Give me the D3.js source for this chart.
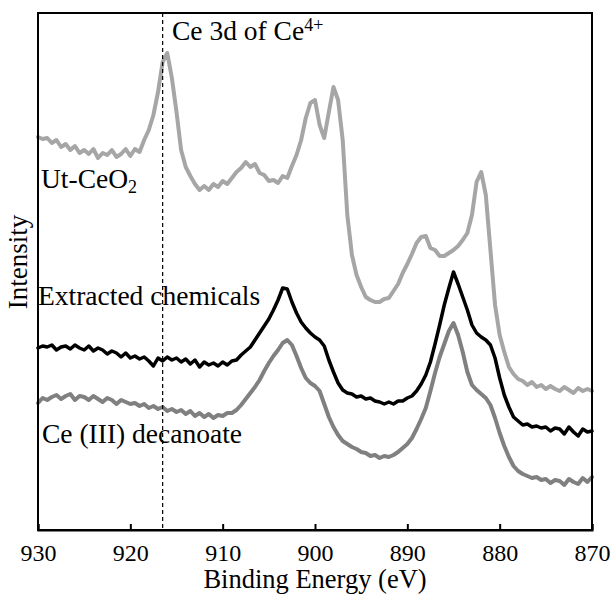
<!DOCTYPE html>
<html><head><meta charset="utf-8"><script src="https://cdn.jsdelivr.net/npm/d3@7"></script></head>
<body style="margin:0">
<div id="c"></div>
<script>
// Binding energy grid (eV), 930 -> 870 in 0.5 eV steps
const energies = d3.range(930, 869.9, -0.5);

// Intensities (arbitrary units), one value per energy
const utCeO2 = [
  393,391,392,387,390,383,386,380,384,377,
  380,376,381,372,377,375,380,373,376,381,
  374,381,378,390,400,415,438,468,477,452,
  418,380,363,354,346,340,344,340,346,343,
  349,346,352,358,362,368,363,366,357,355,
  349,350,347,354,352,364,375,390,412,427,
  430,405,392,418,443,430,390,315,275,255,
  243,233,230,228,228,231,232,239,246,257,
  266,276,287,293,294,282,280,274,274,277,
  280,284,290,297,315,348,358,335,280,225,
  195,178,163,156,151,149,145,148,143,145,
  141,144,141,139,143,140,137,142,139,141,
  139
];
const extracted = [
  182,184,183,185,180,183,184,181,185,182,
  180,184,179,182,180,176,179,177,173,177,
  172,174,171,173,169,164,172,169,173,170,
  172,168,171,166,170,163,168,165,167,164,
  168,165,169,170,175,179,183,190,197,204,
  211,220,230,242,241,228,217,208,202,197,
  193,190,184,170,158,147,140,137,136,133,
  134,131,132,129,128,126,128,126,129,129,
  132,134,139,146,155,168,186,205,225,242,
  258,246,233,220,205,197,193,190,185,172,
  152,135,123,113,109,105,106,103,104,102,
  103,99,102,101,96,103,98,94,101,98,
  99
];
const ceDecanoate = [
  127,132,130,133,135,131,134,136,130,134,
  133,130,134,131,128,132,130,126,130,128,
  126,127,124,126,122,124,121,123,119,121,
  118,120,116,119,114,117,113,116,112,115,
  114,117,117,120,125,131,137,143,150,159,
  167,174,180,187,190,185,174,162,152,147,
  144,139,126,113,103,95,89,86,83,81,
  78,77,74,75,72,74,73,75,78,82,
  86,92,101,111,122,139,157,173,186,199,
  207,195,178,158,145,140,136,132,125,112,
  97,84,73,64,59,56,54,52,53,50,
  51,47,50,49,45,51,48,46,52,48,
  53
];
const xTicks = [930, 920, 910, 900, 890, 880, 870];
const ce4Energy = 916.5;

const seriesNames = ["Ut-CeO\u2082", "Extracted chemicals", "Ce (III) decanoate"];

const FONT = "Liberation Serif";
const W = 612, H = 597;
const m = { left: 38, right: 20, top: 13, bottom: 67 };
const x = d3.scaleLinear().domain([930, 870]).range([m.left, W - m.right]);
const y = d3.scaleLinear().domain([0, 517]).range([H - m.bottom, m.top]);

const svg = d3.select("#c").append("svg")
  .attr("width", W).attr("height", H)
  .style("display", "block")
  .style("font-family", FONT);

const series = [
  { values: utCeO2, color: "#a6a6a6", width: 4 },
  { values: extracted, color: "#000000", width: 3.5 },
  { values: ceDecanoate, color: "#808080", width: 4 }
];

const line = d3.line().x(d => x(d[0])).y(d => y(d[1]));
series.forEach(s => {
  svg.append("path")
    .datum(energies.map((e, i) => [e, s.values[i]]).filter(d => d[1] !== undefined))
    .attr("fill", "none")
    .attr("stroke", s.color)
    .attr("stroke-width", s.width)
    .attr("stroke-linejoin", "round")
    .attr("stroke-linecap", "round")
    .attr("d", line);
});

// dashed reference line
svg.append("line")
  .attr("x1", x(ce4Energy)).attr("x2", x(ce4Energy))
  .attr("y1", y(517)).attr("y2", y(0))
  .attr("stroke", "#000").attr("stroke-width", 1.2)
  .attr("stroke-dasharray", "4,3");

// frame
svg.append("rect")
  .attr("x", x(930)).attr("y", y(517))
  .attr("width", x(870) - x(930)).attr("height", y(0) - y(517))
  .attr("fill", "none").attr("stroke", "#000").attr("stroke-width", 2);

// bottom axis, inward ticks
const xAxis = d3.axisBottom(x).tickValues(xTicks).tickSize(-6).tickPadding(14).tickFormat(d3.format("d"));
const gx = svg.append("g").attr("transform", `translate(0,${y(0)})`).call(xAxis);
gx.attr("font-family", null).attr("font-size", 24).style("font-family", FONT);
gx.select(".domain").attr("stroke-width", 2);
gx.selectAll(".tick line").attr("stroke-width", 2);
gx.selectAll(".tick text").attr("fill", "#000").attr("font-size", 24).style("font-family", FONT);

function txt(xp, yp, size) {
  return svg.append("text").attr("x", xp).attr("y", yp).attr("fill", "#000")
    .attr("font-size", size).style("font-family", FONT);
}

// axis titles
txt(315, 588, 26.5).attr("text-anchor", "middle").text("Binding Energy (eV)");
svg.append("text").attr("transform", "translate(27,262) rotate(-90)")
  .attr("text-anchor", "middle").attr("fill", "#000")
  .attr("font-size", 27).style("font-family", FONT).text("Intensity");

// annotations
const t1 = txt(172, 40, 27.5);
t1.append("tspan").text("Ce 3d of Ce");
t1.append("tspan").attr("dy", -9).attr("font-size", 18).text("4+");

const t2 = txt(41, 188, 27.5);
t2.append("tspan").text("Ut-CeO");
t2.append("tspan").attr("dy", 5).attr("font-size", 18).text("2");

txt(38, 305, 27.5).text(seriesNames[1]);
txt(42, 443, 27.5).text(seriesNames[2]);
</script></body></html>
